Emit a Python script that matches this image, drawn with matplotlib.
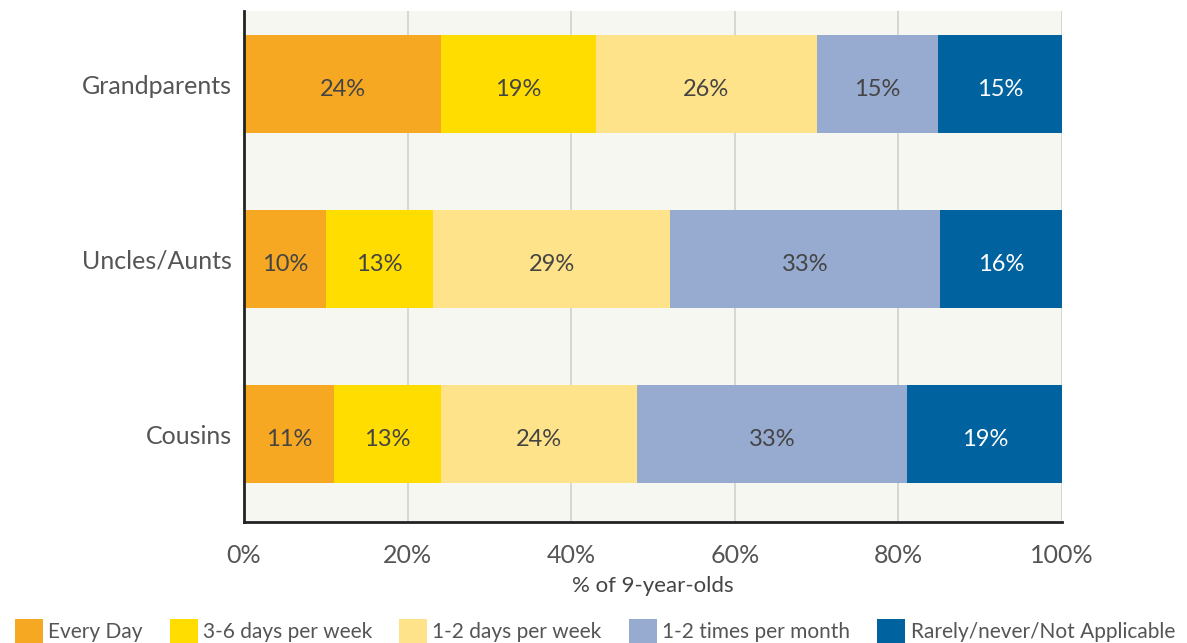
import numpy as np
import matplotlib.pyplot as plt

plt.rcParams['font.family'] = ['Lato', 'DejaVu Sans']

groups = ['Cousins', 'Uncles/Aunts', 'Grandparents']
series = ['Every Day', '3-6 days per week', '1-2 days per week',
          '1-2 times per month', 'Rarely/never/Not Applicable']
colors = ['#F7A823', '#FFDD00', '#FFE38A', '#97AACF', '#00629E']

# segment widths per series, order: Cousins, Uncles/Aunts, Grandparents
every_day = [11.0, 10.0, 24.1]
days_3_6 = [13.1, 13.1, 18.9]
days_1_2 = [24.0, 29.0, 27.0]
month_1_2 = [33.0, 33.0, 14.9]
rarely = [18.9, 14.9, 15.1]

# printed labels
lab_every = ['11%', '10%', '24%']
lab_3_6 = ['13%', '13%', '19%']
lab_1_2 = ['24%', '29%', '26%']
lab_month = ['33%', '33%', '15%']
lab_rarely = ['19%', '16%', '15%']

vals = [every_day, days_3_6, days_1_2, month_1_2, rarely]
labs = [lab_every, lab_3_6, lab_1_2, lab_month, lab_rarely]

fig = plt.figure(figsize=(11.87, 6.43), dpi=100)
ax = fig.add_axes([0.2056, 0.1882, 0.6891, 0.7947])
ax.set_facecolor('#F5F7F0')

y = np.arange(len(groups))
left = np.zeros(len(groups))
for i in range(len(series)):
    ax.barh(y, vals[i], left=left, height=0.56, color=colors[i], label=series[i], zorder=2)
    for j in range(len(groups)):
        tc = 'white' if i == 4 else '#444444'
        ax.text(left[j] + vals[i][j] / 2, y[j] - 0.03, labs[i][j], ha='center', va='center',
                fontsize=17, color=tc, zorder=3)
    left = left + np.array(vals[i])

ax.set_xlim(0, 100)
ax.set_ylim(-0.5, 2.42)
ax.set_xticks(np.arange(0, 101, 20))
ax.set_xticklabels([f'{t}%' for t in range(0, 101, 20)])
ax.set_yticks(y)
ax.set_yticklabels(groups)
ax.tick_params(axis='both', length=0, labelsize=18, colors='#555555')
ax.tick_params(axis='x', pad=16)
ax.tick_params(axis='y', pad=9)
ax.grid(axis='x', color='#D0D0D0', linewidth=1.2, zorder=0)
for s in ['top', 'right']:
    ax.spines[s].set_visible(False)
for s in ['left', 'bottom']:
    ax.spines[s].set_color('#222222')
    ax.spines[s].set_linewidth(2)
ax.set_xlabel('% of 9-year-olds', fontsize=16, color='#444444', labelpad=6)

fig.legend(loc='lower left', bbox_to_anchor=(0.0, -0.022), ncol=5, frameon=False,
           fontsize=15, labelcolor='#555555', handlelength=1.35, handleheight=1.35,
           handletextpad=0.25, columnspacing=1.3, borderaxespad=0.3)

fig.savefig('out.png', dpi=100)
